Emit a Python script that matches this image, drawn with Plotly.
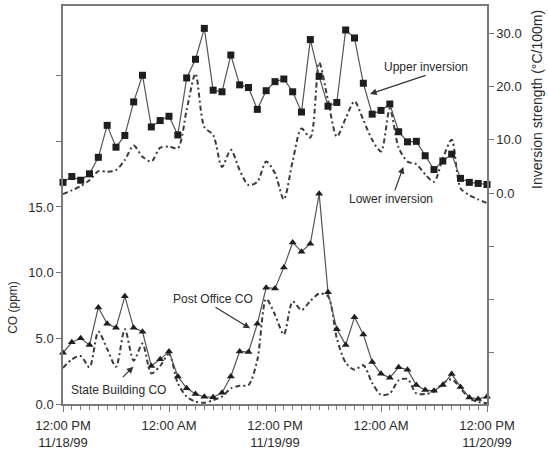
import pandas as pd
import plotly.graph_objects as go

# Hourly observations, 12:00 PM 11/18/99 through 12:00 PM 11/20/99
hours = pd.date_range("1999-11-18 12:00", periods=49, freq="h")

# Inversion strength (°C/100m)
upper_inversion = [2.0, 3.1, 2.4, 3.6, 6.7, 12.7, 8.6, 10.8, 17.1, 22.1,
                   12.4, 13.6, 14.4, 10.9, 21.6, 25.1, 30.9, 19.3, 19.0, 25.9,
                   20.3, 19.8, 15.7, 19.2, 20.9, 21.4, 19.0, 15.2, 28.8, 21.9,
                   16.3, 17.0, 30.6, 29.1, 20.6, 14.8, 15.5, 16.7, 11.5, 9.6,
                   9.7, 7.0, 4.4, 6.0, 7.3, 2.75, 2.0, 1.8, 1.6]
lower_inversion = [-0.2, 0.5, 1.3, 2.4, 4.1, 4.0, 4.3, 6.2, 8.9, 6.8,
                   5.9, 8.5, 8.7, 8.4, 15.6, 22.4, 12.4, 10.9, 4.9, 8.1,
                   4.3, 1.5, 2.1, 5.9, 3.7, -1.2, 6.0, 12.1, 10.4, 24.5,
                   17.4, 10.6, 14.0, 17.2, 13.7, 10.0, 7.8, 15.8, 8.5, 5.9,
                   5.4, 3.5, 2.1, 6.5, 10.0, 0.9, -0.4, -1.2, -1.9]

# Carbon monoxide (ppm)
post_office_co = [3.9, 4.7, 5.0, 4.5, 7.35, 6.1, 5.8, 8.2, 5.8, 5.5,
                  2.9, 3.4, 4.0, 2.1, 1.2, 0.76, 0.55, 0.52, 0.86, 2.1,
                  4.0, 3.95, 6.1, 8.85, 8.8, 10.4, 12.3, 11.6, 12.2, 16.0,
                  8.5, 5.7, 4.5, 6.6, 5.3, 3.2, 2.3, 2.0, 2.8, 2.6,
                  1.44, 1.06, 1.0, 1.44, 2.28, 1.3, 0.5, 0.38, 0.56]
state_building_co = [2.75, 3.4, 3.65, 2.8, 5.5, 4.2, 2.84, 5.7, 3.3, 4.6,
                     2.33, 2.9, 3.8, 1.57, 0.56, 0.18, 0.1, 0.3, 0.56, 1.19,
                     1.39, 1.44, 3.35, 8.0, 6.8, 5.3, 7.8, 7.15, 7.85, 8.4,
                     8.2, 5.0, 3.15, 2.6, 2.95, 1.6, 0.7, 0.8, 1.8, 1.9,
                     0.8, 0.76, 0.94, 1.57, 1.88, 1.2, 0.43, 0.17, 0.05]

x_tick_times = ["1999-11-18 12:00", "1999-11-19 00:00", "1999-11-19 12:00",
                "1999-11-20 00:00", "1999-11-20 12:00"]
x_tick_text = ["12:00 PM<br>11/18/99", "12:00 AM", "12:00 PM<br>11/19/99",
               "12:00 AM", "12:00 PM<br>11/20/99"]
co_ticks = [0, 5, 10, 15, 20, 25]
co_tick_text = ["0.0", "5.0", "10.0", "15.0", "", ""]
inv_ticks = [-30, -20, -10, 0, 10, 20, 30]
inv_tick_text = ["", "", "", "0.0", "10.0", "20.0", "30.0"]

FONT = "Liberation Sans, Arial, sans-serif"
INK = "#2b2b2b"
AXIS = "#7a7a7a"
DASH = "5px,3px,2px,3px"

fig = go.Figure()

fig.add_trace(go.Scatter(
    x=hours, y=lower_inversion, yaxis="y2", mode="lines",
    line=dict(color="#3a3a3a", width=2, dash=DASH, shape="spline", smoothing=0.8),
    name="Lower inversion"))
fig.add_trace(go.Scatter(
    x=hours, y=upper_inversion, yaxis="y2", mode="lines+markers",
    line=dict(color="#555555", width=1.2),
    marker=dict(symbol="square", size=7, color="#1e1e1e"),
    cliponaxis=False, name="Upper inversion"))
fig.add_trace(go.Scatter(
    x=hours, y=state_building_co, yaxis="y", mode="lines",
    line=dict(color="#3a3a3a", width=2, dash=DASH, shape="spline", smoothing=0.8),
    name="State Building CO"))
fig.add_trace(go.Scatter(
    x=hours, y=post_office_co, yaxis="y", mode="lines+markers",
    line=dict(color="#555555", width=1.2),
    marker=dict(symbol="triangle-up", size=7, color="#1e1e1e"),
    cliponaxis=False, name="Post Office CO"))

tick_font = dict(family=FONT, size=13, color=INK)

fig.update_layout(
    width=548, height=455,
    margin=dict(l=63, r=61, t=6, b=51),
    paper_bgcolor="white", plot_bgcolor="white",
    showlegend=False,
    font=dict(family=FONT, color=INK),
    xaxis=dict(
        type="date", range=[hours[0], hours[-1]],
        tickvals=x_tick_times, ticktext=x_tick_text, tickfont=tick_font,
        ticks="outside", ticklen=6, tickwidth=1.2, tickcolor=AXIS,
        ticklabelstandoff=3,
        minor=dict(dtick=3600000, ticks="outside", ticklen=4,
                   tickwidth=1, tickcolor=AXIS),
        showline=True, linecolor=AXIS, linewidth=1.5, mirror=True,
        showgrid=False, zeroline=False, automargin=False),
    yaxis=dict(
        range=[0, 30.3], tickvals=co_ticks, ticktext=co_tick_text,
        tickfont=tick_font, ticks="outside", ticklen=5, tickwidth=1.2,
        tickcolor=AXIS, showline=True, linecolor=AXIS, linewidth=1.5,
        showgrid=False, zeroline=False, automargin=False),
    yaxis2=dict(
        range=[-39.6, 35.1], overlaying="y", side="right",
        tickvals=inv_ticks, ticktext=inv_tick_text, tickfont=tick_font,
        ticks="outside", ticklen=5, tickwidth=1.2, tickcolor=AXIS,
        showline=True, linecolor=AXIS, linewidth=1.5,
        showgrid=False, zeroline=False, automargin=False),
)

# Axis titles
fig.add_annotation(text="CO (ppm)", xref="paper", yref="paper",
                   x=-0.118, y=0.244, xanchor="center", yanchor="middle",
                   textangle=-90, showarrow=False,
                   font=dict(family=FONT, size=12, color=INK))
fig.add_annotation(text="Inversion strength (°C/100m)", xref="paper", yref="paper",
                   x=1.118, y=0.764, xanchor="center", yanchor="middle",
                   textangle=-90, showarrow=False,
                   font=dict(family=FONT, size=14, color=INK))

# Series labels
label_font = dict(family=FONT, size=12, color=INK)
labels = [
    ("Upper inversion", 0.856, 0.847),
    ("Lower inversion", 0.774, 0.515),
    ("Post Office CO", 0.354, 0.264),
    ("State Building CO", 0.130, 0.035),
]
for text, px, py in labels:
    fig.add_annotation(text=text, xref="paper", yref="paper", x=px, y=py,
                       xanchor="center", yanchor="middle",
                       showarrow=False, font=label_font)

# Leader arrows (tip in data units, tail offset in pixels)
arrows = [
    (34.76, 18.6, "y2", 57, -19),
    (38.53, 4.9, "y2", -9, 25),
    (21.17, 5.76, "y", -36, -22),
    (7.96, 2.84, "y", -12, 12),
]
for hr, val, yref, ax, ay in arrows:
    fig.add_annotation(text="", x=hours[0] + pd.Timedelta(hours=hr), y=val,
                       xref="x", yref=yref, ax=ax, ay=ay, showarrow=True,
                       arrowhead=2, arrowsize=1.1, arrowwidth=1.2,
                       arrowcolor="#333333")

fig.write_html("out.html")
